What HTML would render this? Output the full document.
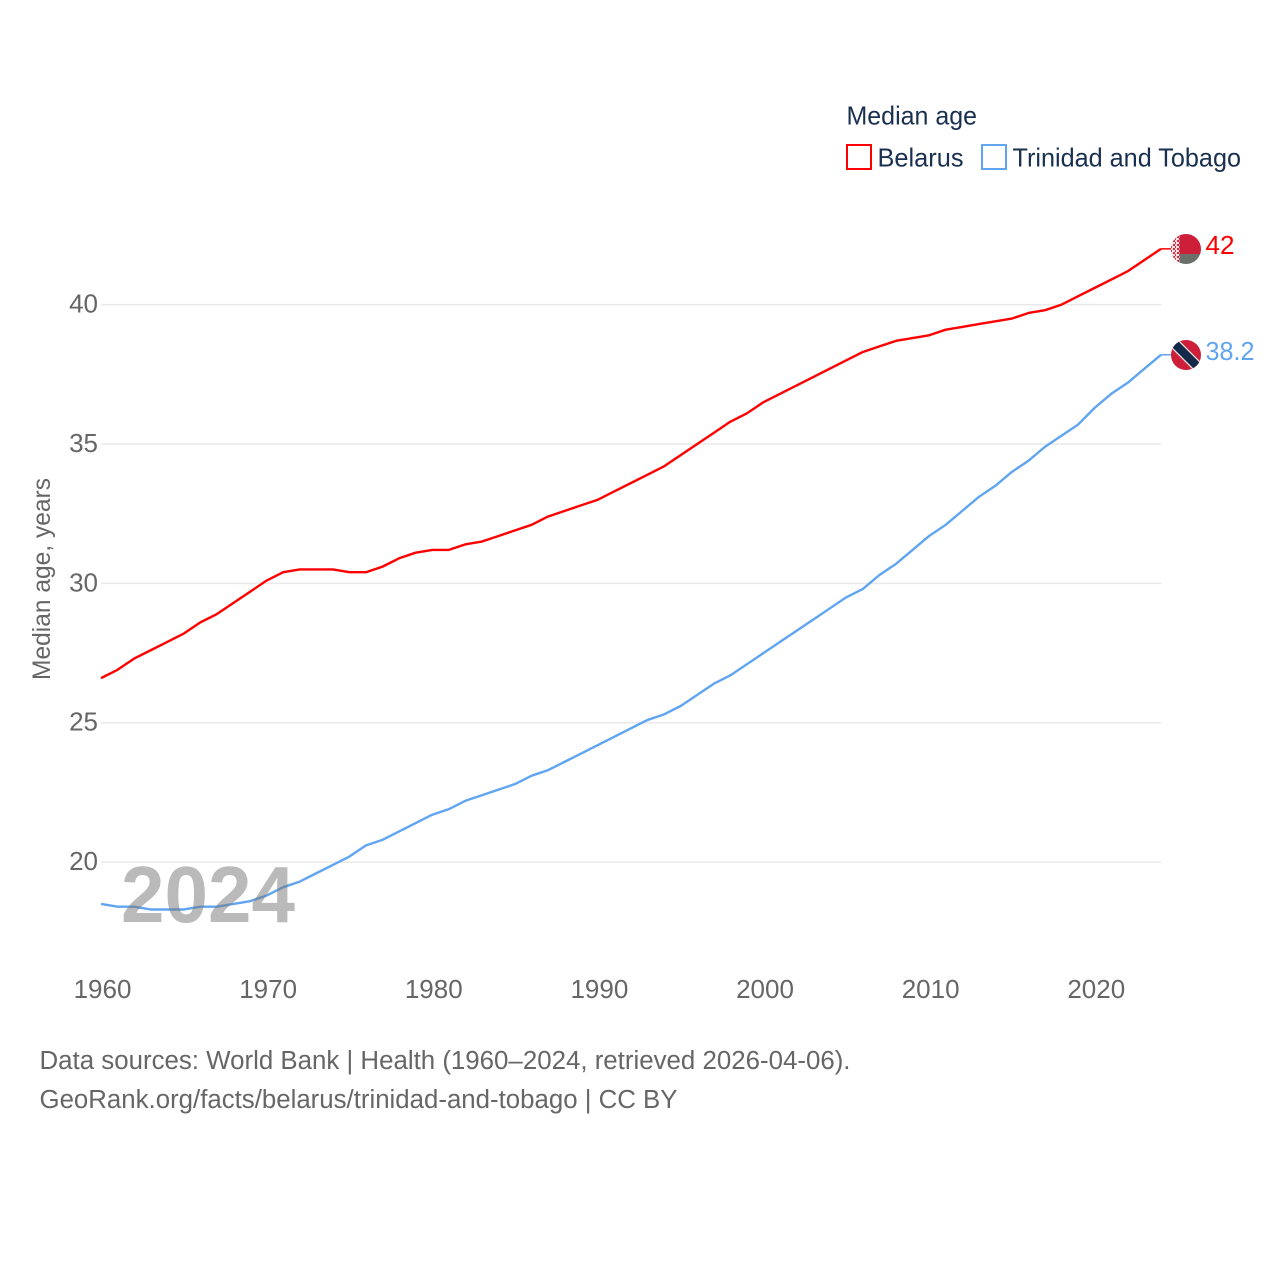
<!DOCTYPE html>
<html lang="en">
<head>
<meta charset="utf-8">
<title>Median age: Belarus and Trinidad and Tobago</title>
<style>
html,body{margin:0;padding:0;background:#fff;}
svg{display:block;}
text{font-family:"Liberation Sans",sans-serif;}
</style>
</head>
<body>
<svg id="chart" xmlns="http://www.w3.org/2000/svg" width="1280" height="1280" viewBox="0 0 1280 1280">
  <rect width="1280" height="1280" fill="#ffffff"/>
  <g id="grid"></g>
  <g id="y-ticks"></g>
  <g id="x-ticks"></g>
  <text transform="translate(50,680) rotate(-90)" font-size="25" fill="#666666" textLength="202" lengthAdjust="spacingAndGlyphs">Median age, years</text>
  <g id="series"></g>
  <text x="121" y="922" font-size="80" font-weight="700" fill="#757575" fill-opacity="0.5" textLength="174" lengthAdjust="spacingAndGlyphs">2024</text>

  <g>
    <text x="846.5" y="124.5" font-size="26" fill="#1a3050" textLength="130.5" lengthAdjust="spacingAndGlyphs">Median age</text>
    <g>
      <rect x="847" y="145" width="24" height="24" fill="#ffffff" stroke="#ff0000" stroke-width="2"/>
      <text x="877.5" y="166.5" font-size="26" fill="#1a3050" textLength="86" lengthAdjust="spacingAndGlyphs">Belarus</text>
    </g>
    <g>
      <rect x="982" y="145" width="24" height="24" fill="#ffffff" stroke="#60a5f0" stroke-width="2"/>
      <text x="1012.5" y="166.5" font-size="26" fill="#1a3050" textLength="228.5" lengthAdjust="spacingAndGlyphs">Trinidad and Tobago</text>
    </g>
  </g>

  <defs>
    <clipPath id="clip-by"><circle cx="1186" cy="249" r="15"/></clipPath>
    <clipPath id="clip-tt"><circle cx="1186" cy="355" r="15"/></clipPath>
    <pattern id="by-ornament" width="4" height="4" patternUnits="userSpaceOnUse">
      <rect width="4" height="4" fill="#f7dfe2"/>
      <rect x="1" y="0" width="2" height="2" fill="#d22f45"/>
      <rect x="3" y="2" width="1" height="2" fill="#d22f45"/>
    </pattern>
  </defs>
  <g clip-path="url(#clip-by)">
    <rect x="1171" y="234" width="30" height="20" fill="#ce1f3a"/>
    <rect x="1171" y="254" width="30" height="10" fill="#6a6f6a"/>
    <rect x="1171" y="234" width="8.5" height="30" fill="url(#by-ornament)"/>
  </g>
  <g clip-path="url(#clip-tt)">
    <rect x="1171" y="340" width="30" height="30" fill="#ce1f3a"/>
    <line x1="1171" y1="340" x2="1201" y2="370" stroke="#ece6e0" stroke-width="11"/>
    <line x1="1171" y1="340" x2="1201" y2="370" stroke="#14284a" stroke-width="8.5"/>
  </g>

  <text x="1205.5" y="254" font-size="26" fill="#ff0000" textLength="29" lengthAdjust="spacingAndGlyphs">42</text>
  <text x="1205.5" y="360" font-size="26" fill="#60a5f0" textLength="49" lengthAdjust="spacingAndGlyphs">38.2</text>

  <text x="39.5" y="1069" font-size="25.5" fill="#666666" textLength="811" lengthAdjust="spacingAndGlyphs">Data sources: World Bank | Health (1960–2024, retrieved 2026-04-06).</text>
  <text x="39.5" y="1108" font-size="25.5" fill="#666666" textLength="638" lengthAdjust="spacingAndGlyphs">GeoRank.org/facts/belarus/trinidad-and-tobago | CC BY</text>
</svg>

<script>
const startYear = 1960;
const xTicks = [1960, 1970, 1980, 1990, 2000, 2010, 2020];
const yTicks = [20, 25, 30, 35, 40];
const belarus = [
  26.6, 26.9, 27.3, 27.6, 27.9, 28.2, 28.6, 28.9, 29.3, 29.7,
  30.1, 30.4, 30.5, 30.5, 30.5, 30.4, 30.4, 30.6, 30.9, 31.1,
  31.2, 31.2, 31.4, 31.5, 31.7, 31.9, 32.1, 32.4, 32.6, 32.8,
  33.0, 33.3, 33.6, 33.9, 34.2, 34.6, 35.0, 35.4, 35.8, 36.1,
  36.5, 36.8, 37.1, 37.4, 37.7, 38.0, 38.3, 38.5, 38.7, 38.8,
  38.9, 39.1, 39.2, 39.3, 39.4, 39.5, 39.7, 39.8, 40.0, 40.3,
  40.6, 40.9, 41.2, 41.6, 42.0
];
const trinidadAndTobago = [
  18.5, 18.4, 18.4, 18.3, 18.3, 18.3, 18.4, 18.4, 18.5, 18.6,
  18.8, 19.1, 19.3, 19.6, 19.9, 20.2, 20.6, 20.8, 21.1, 21.4,
  21.7, 21.9, 22.2, 22.4, 22.6, 22.8, 23.1, 23.3, 23.6, 23.9,
  24.2, 24.5, 24.8, 25.1, 25.3, 25.6, 26.0, 26.4, 26.7, 27.1,
  27.5, 27.9, 28.3, 28.7, 29.1, 29.5, 29.8, 30.3, 30.7, 31.2,
  31.7, 32.1, 32.6, 33.1, 33.5, 34.0, 34.4, 34.9, 35.3, 35.7,
  36.3, 36.8, 37.2, 37.7, 38.2
];

const NS = 'http://www.w3.org/2000/svg';
const xScale = function (year) { return 101 + (year - 1960) * (1060 / 64); };
const yScale = function (v) { return 304.6 + (40 - v) * (557.5 / 20); };

function make(tag, parent) {
  const el = document.createElementNS(NS, tag);
  parent.appendChild(el);
  return el;
}

const gridGroup = document.getElementById('grid');
const yGroup = document.getElementById('y-ticks');
yTicks.forEach(function (t) {
  const line = make('line', gridGroup);
  
  
  line.setAttribute('x1', 101);
  line.setAttribute('x2', 1161);
  line.setAttribute('y1', yScale(t));
  line.setAttribute('y2', yScale(t));
  line.setAttribute('stroke', '#e9e9e9');
  line.setAttribute('stroke-width', '1.5');

  const label = make('text', yGroup);
  
  
  label.setAttribute('x', 98);
  label.setAttribute('y', yScale(t) + 8);
  label.setAttribute('text-anchor', 'end');
  label.setAttribute('font-size', '26');
  label.setAttribute('fill', '#666666');
  label.textContent = t;
});

const xGroup = document.getElementById('x-ticks');
xTicks.forEach(function (t) {
  const label = make('text', xGroup);
  
  
  label.setAttribute('x', xScale(t) + 1.5);
  label.setAttribute('y', 998);
  label.setAttribute('text-anchor', 'middle');
  label.setAttribute('font-size', '26');
  label.setAttribute('fill', '#666666');
  label.textContent = t;
});

const seriesGroup = document.getElementById('series');
function drawSeries(values, color, name) {
  const pts = values.map(function (v, i) {
    return xScale(startYear + i).toFixed(2) + ',' + yScale(v).toFixed(2);
  });
  const line = make('polyline', seriesGroup);
  
  
  line.setAttribute('points', pts.join(' '));
  line.setAttribute('fill', 'none');
  line.setAttribute('stroke', color);
  line.setAttribute('stroke-width', '2.4');
  line.setAttribute('stroke-linejoin', 'round');

  const lastY = yScale(values[values.length - 1]);
  const connector = make('line', seriesGroup);
  
  
  connector.setAttribute('x1', xScale(startYear + values.length - 1));
  connector.setAttribute('x2', 1172);
  connector.setAttribute('y1', lastY);
  connector.setAttribute('y2', lastY);
  connector.setAttribute('stroke', color);
  connector.setAttribute('stroke-width', '1.5');
}
drawSeries(belarus, '#ff0000', 'line-belarus');
drawSeries(trinidadAndTobago, '#60a5f0', 'line-trinidad-and-tobago');
</script>
</body>
</html>
